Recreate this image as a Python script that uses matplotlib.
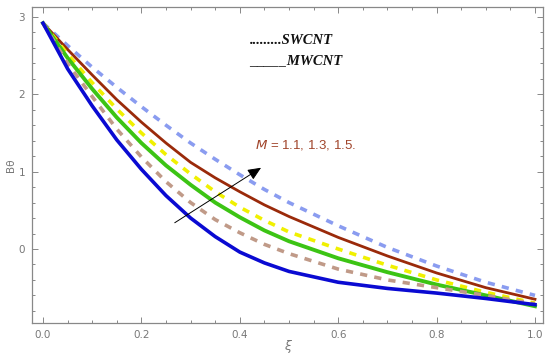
import matplotlib
matplotlib.use("Agg")
import matplotlib.pyplot as plt
from matplotlib.ticker import MultipleLocator, FormatStrFormatter

xi = [0.0, 0.05, 0.1, 0.15, 0.2, 0.25, 0.3, 0.35, 0.4, 0.45, 0.5, 0.6, 0.7, 0.8, 0.9, 1.0]

# MWCNT (solid)
mw_11 = [2.92, 2.33, 1.85, 1.41, 1.03, 0.69, 0.40, 0.16, -0.04, -0.18, -0.29, -0.43, -0.51, -0.57, -0.64, -0.72]
mw_13 = [2.92, 2.47, 2.07, 1.70, 1.37, 1.08, 0.83, 0.60, 0.41, 0.24, 0.10, -0.12, -0.30, -0.46, -0.60, -0.74]
mw_15 = [2.92, 2.58, 2.25, 1.93, 1.64, 1.37, 1.12, 0.92, 0.74, 0.57, 0.42, 0.15, -0.09, -0.31, -0.50, -0.65]
# SWCNT (dashed)
sw_11 = [2.92, 2.40, 1.97, 1.55, 1.19, 0.87, 0.60, 0.38, 0.21, 0.06, -0.06, -0.26, -0.40, -0.50, -0.60, -0.71]
sw_13 = [2.92, 2.52, 2.15, 1.81, 1.50, 1.22, 0.97, 0.74, 0.54, 0.37, 0.22, 0.00, -0.21, -0.40, -0.56, -0.70]
sw_15 = [2.92, 2.63, 2.35, 2.09, 1.84, 1.60, 1.37, 1.16, 0.96, 0.77, 0.60, 0.30, 0.02, -0.22, -0.43, -0.60]

fig = plt.figure(figsize=(5.5, 3.61), dpi=100)
ax = fig.add_axes([32/550, 38/361, 511/550, 316/361])

dash = (0, (2.0, 2.0))
ax.plot(xi, sw_15, color="#8a9cf0", lw=2.6, ls=dash)
ax.plot(xi, mw_15, color="#9a2a0a", lw=2.0)
ax.plot(xi, sw_13, color="#f0f000", lw=2.6, ls=dash)
ax.plot(xi, mw_13, color="#3cc414", lw=2.8)
ax.plot(xi, sw_11, color="#c09a88", lw=2.6, ls=dash)
ax.plot(xi, mw_11, color="#0a0ad2", lw=2.6)

ax.set_xlim(-0.0224, 1.0163)
ax.set_ylim(-0.957, 3.129)

ax.xaxis.set_major_locator(MultipleLocator(0.2))
ax.xaxis.set_minor_locator(MultipleLocator(0.05))
ax.yaxis.set_major_locator(MultipleLocator(1))
ax.yaxis.set_minor_locator(MultipleLocator(0.2))
ax.xaxis.set_major_formatter(FormatStrFormatter("%.1f"))
ax.yaxis.set_major_formatter(FormatStrFormatter("%d"))

gray = "#888888"
for s in ax.spines.values():
    s.set_color(gray)
    s.set_linewidth(0.9)
ax.tick_params(which="both", direction="in", top=True, right=True, color=gray,
               labelcolor="#777777", labelsize=7.5, width=0.7)
ax.tick_params(which="major", length=4, pad=5)
ax.tick_params(which="minor", length=2.5)

ax.set_xlabel("ξ", fontsize=9, color="#777777", style="italic", labelpad=0)
ax.set_ylabel("Bθ", fontsize=7.5, color="#777777", labelpad=2)

ax.text(0.42, 2.70, ".........SWCNT", fontsize=10.5, family="Liberation Serif",
        style="italic", weight="bold", ha="left", va="center", color="#111111")
ax.text(0.42, 2.43, "_____MWCNT", fontsize=10.5, family="Liberation Serif",
        style="italic", weight="bold", ha="left", va="center", color="#111111")

ax.text(0.43, 1.34, "$M$ = 1.1, 1.3, 1.5.", fontsize=9.5, family="Liberation Sans",
        color="#a0442a", ha="left", va="center")

ax.annotate("", xy=(0.448, 1.07), xytext=(0.263, 0.32),
            arrowprops=dict(arrowstyle="-|>,head_length=0.8,head_width=0.35",
                            color="black", lw=0.7))

fig.savefig("out.png", dpi=100)
